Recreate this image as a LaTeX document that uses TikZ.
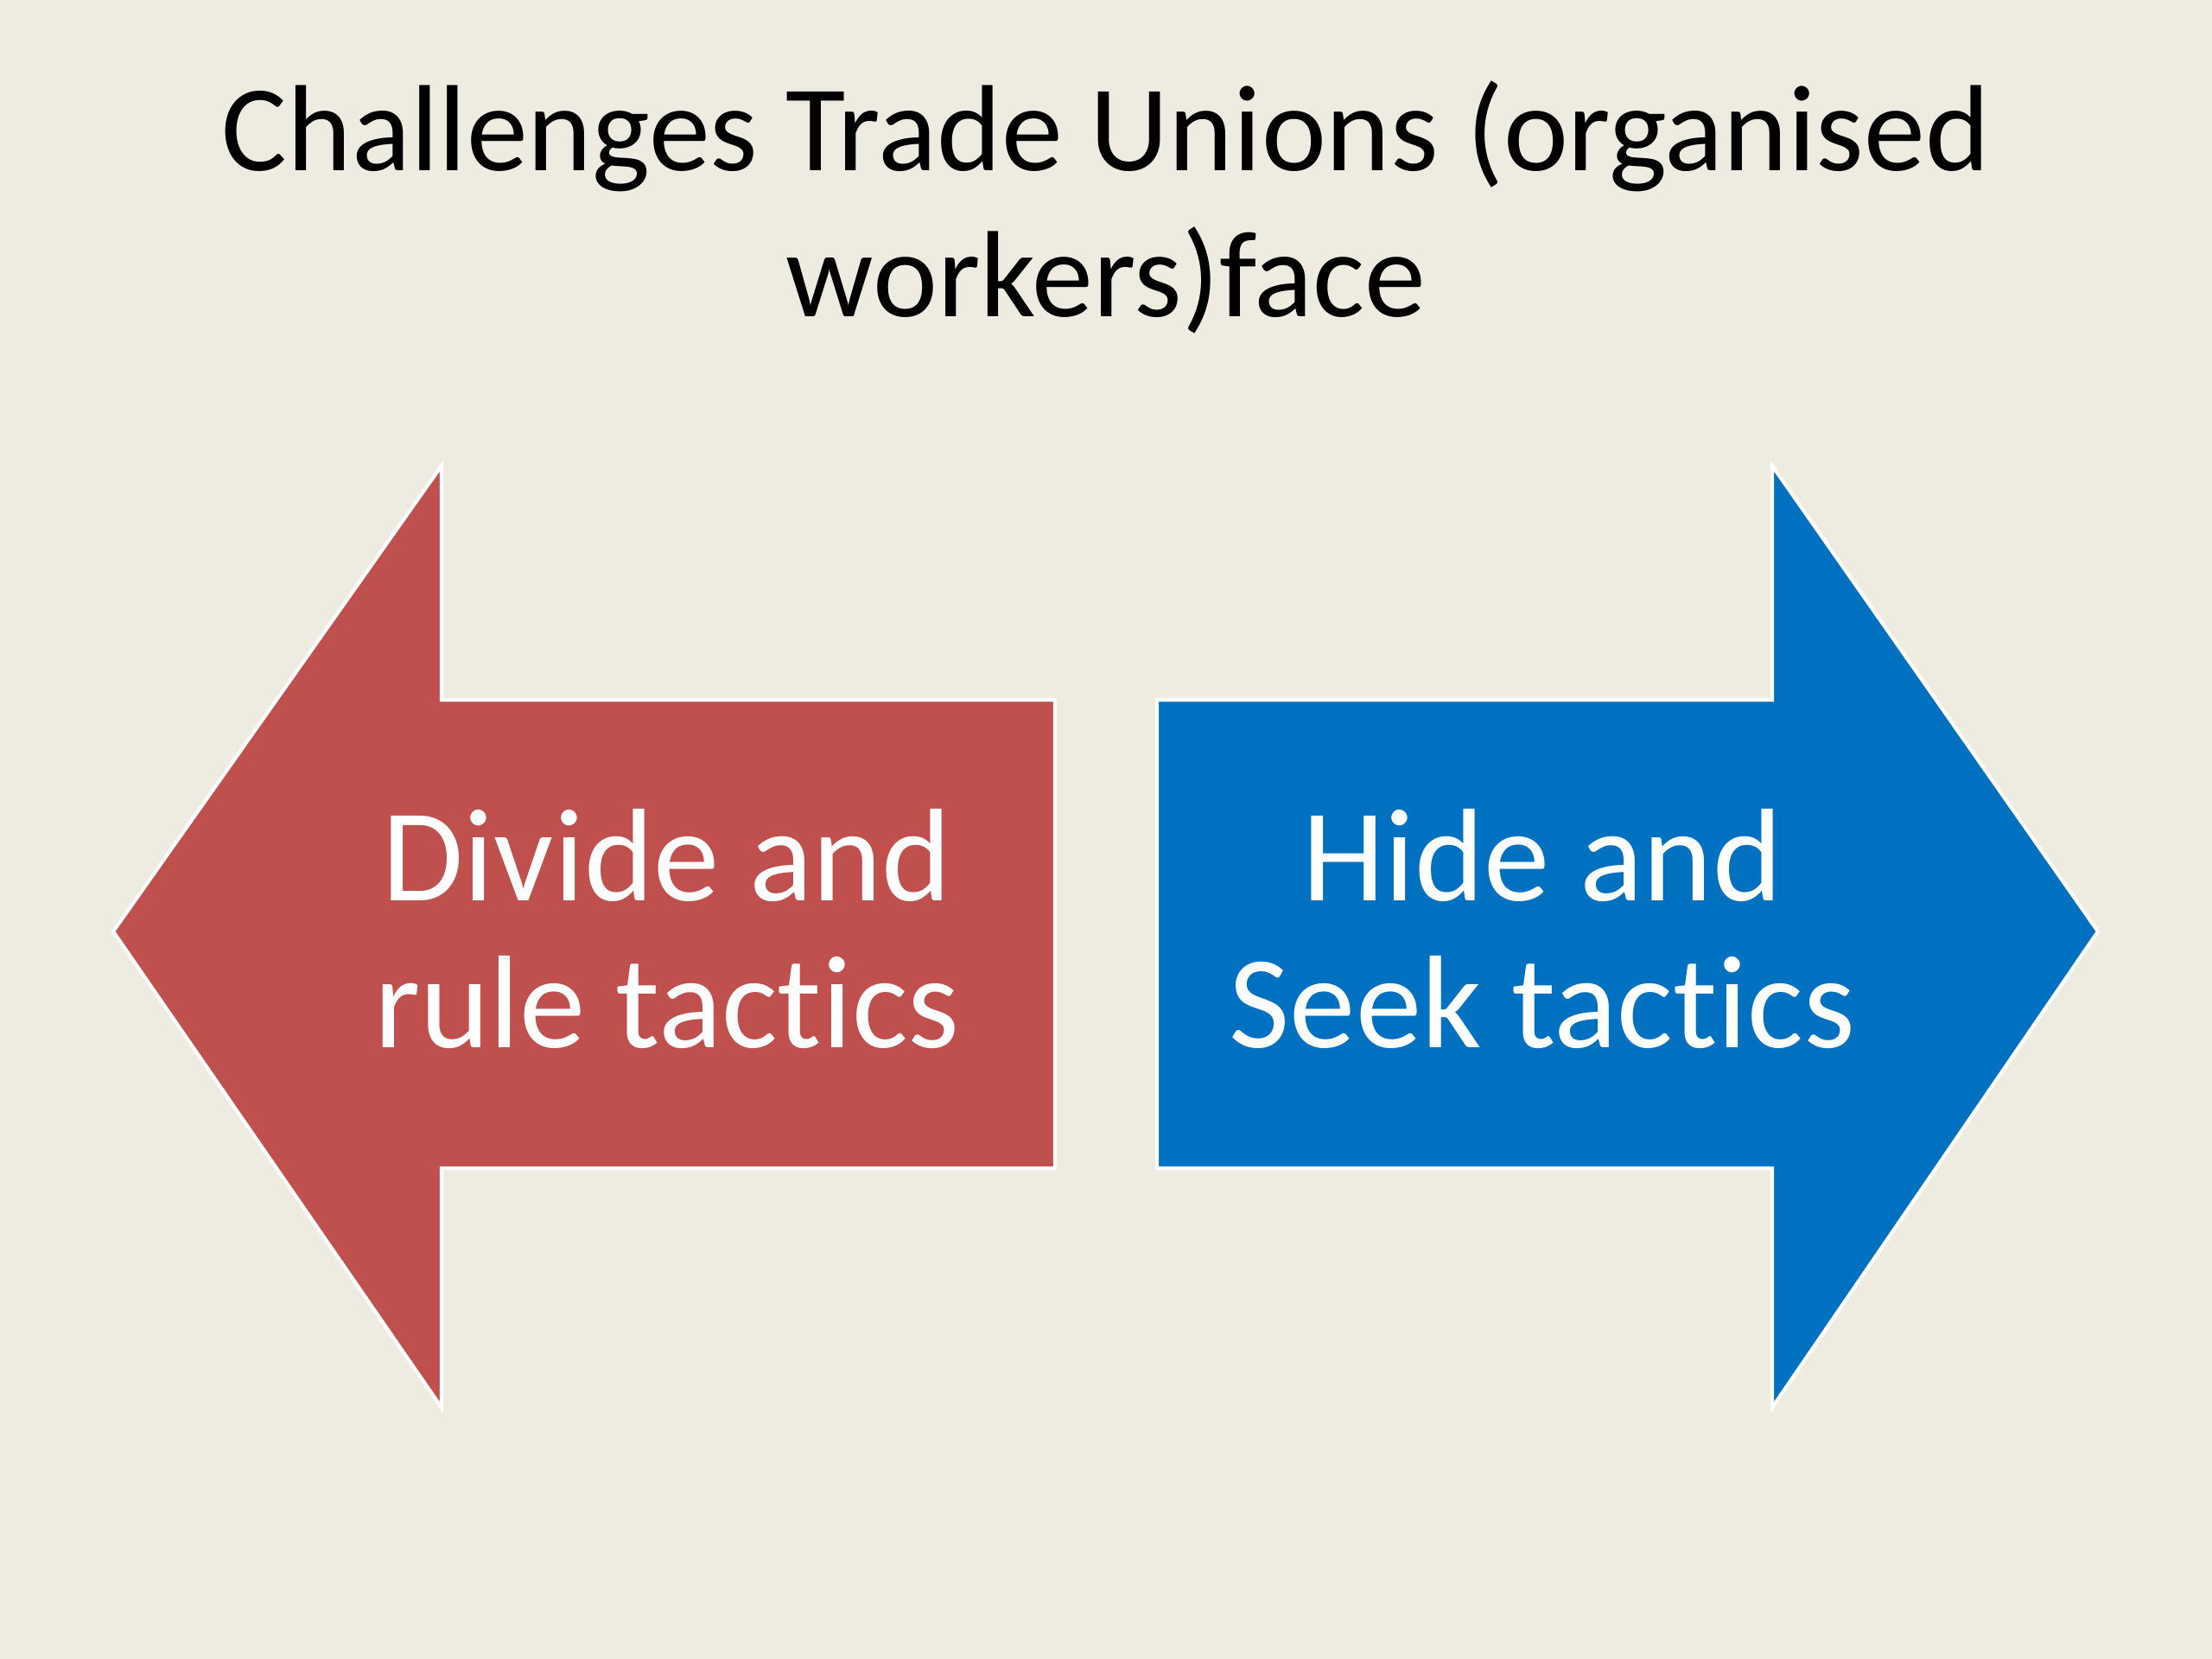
\documentclass[tikz,border=0pt]{standalone}
\usepackage{fontspec}
\setmainfont{Carlito}[Ligatures=NoCommon]
\usepackage{xcolor}
\usepackage{tikz}
\definecolor{slidebg}{RGB}{238,236,225}
\definecolor{arrowred}{RGB}{192,80,77}
\definecolor{arrowblue}{RGB}{0,112,192}
\tikzset{
  bigarrow/.style={draw=white,line width=1.2pt,line join=miter},
  arrowtext/.style={text=white,align=center,font=\fontsize{43.5}{48.5}\selectfont},
  titletext/.style={text=black,align=center,font=\fontsize{40.4}{48}\selectfont}
}

\begin{document}
\begin{tikzpicture}
  \fill[slidebg] (0,0) rectangle (25.6,19.2);
  \useasboundingbox (0,0) rectangle (25.6,19.2);

  \node[titletext] (title) at (12.8,16.8) {Challenges Trade Unions (organised\\workers)face};

  % left arrow
  \draw[bigarrow,fill=arrowred] (1.31,8.42) -- (5.11,13.81) -- (5.11,11.10) -- (12.21,11.10)
    -- (12.21,5.68) -- (5.11,5.68) -- (5.11,2.91) -- cycle;
  % right arrow
  \draw[bigarrow,fill=arrowblue] (24.28,8.42) -- (20.51,13.81) -- (20.51,11.10) -- (13.39,11.10)
    -- (13.39,5.68) -- (20.51,5.68) -- (20.51,2.91) -- cycle;

  \node[arrowtext] (divide) at (7.72,8.45) {Divide and\\rule tactics};
  \node[arrowtext] (hide) at (17.85,8.45) {Hide and\\Seek tactics};
\end{tikzpicture}
\end{document}
